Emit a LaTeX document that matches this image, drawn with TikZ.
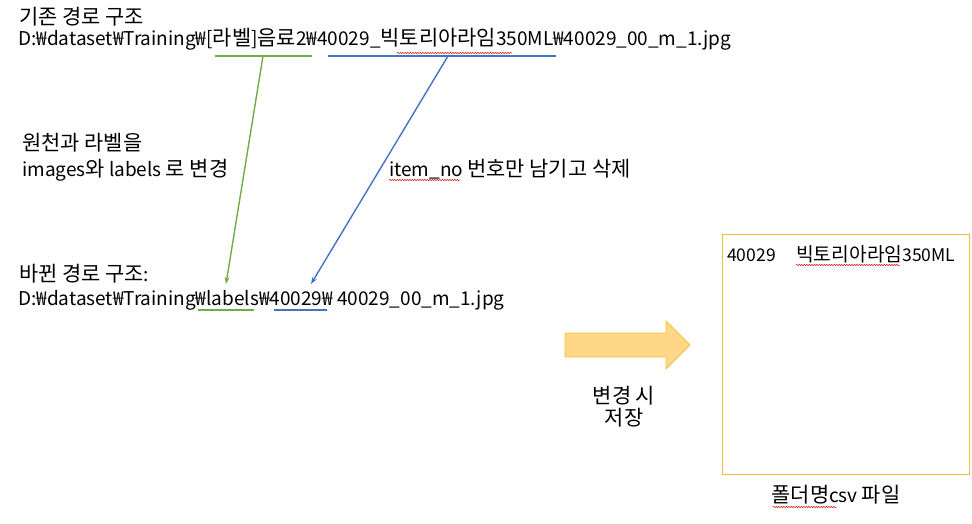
\documentclass[tikz,border=0pt]{standalone}
\usepackage{fontspec}
\setmainfont{Noto Sans CJK KR}
\newfontfamily\krfont[Scale=1.1]{Noto Sans CJK KR}
\newcommand{\hangul}[1]{{\krfont #1}}
\usetikzlibrary{arrows.meta,decorations.pathmorphing}
\definecolor{pathgreen}{HTML}{70AD47}
\definecolor{pathblue}{HTML}{4472C4}
\definecolor{arrowfill}{HTML}{FFD787}
\definecolor{arrowline}{HTML}{F5C242}
\definecolor{boxline}{HTML}{F2C037}
\tikzset{
  txt/.style={anchor=base west, inner sep=0pt, font=\fontsize{19}{23}\selectfont},
  ctxt/.style={anchor=base, inner sep=0pt, font=\fontsize{19}{23}\selectfont},
  csvtxt/.style={anchor=base west, inner sep=0pt, font=\fontsize{17.5}{21}\selectfont},
  spell/.style={red!80!black, line width=0.5pt, decorate,
    decoration={snake, amplitude=0.6pt, segment length=2.5pt}},
  tip/.style={-{Stealth[length=7pt,width=5pt]}, line width=1.4pt}
}
\begin{document}
\begin{tikzpicture}[x=1pt,y=-1pt]
        \useasboundingbox (0,0) rectangle (972,524);

        % Old path
        \node[txt] (oldtitle) at (19,25) {\hangul{기존 경로 구조}};
        \node[txt] (oldpath) at (18,46) {D:₩dataset₩Training₩[\hangul{라벨}]\hangul{음료}2₩40029\_\hangul{빅토리아라임}350ML₩40029\_00\_m\_1.jpg};

        % New path
        \node[txt] (newtitle) at (19,281) {\hangul{바뀐 경로 구조}:};
        \node[txt] (newpath) at (18,305) {D:₩dataset₩Training₩labels₩40029₩ 40029\_00\_m\_1.jpg};

        % Underlines
        \coordinate (g1a) at (215,56);
        \coordinate (g1b) at (312,56);
        \coordinate (b1a) at (328,56);
        \coordinate (b1b) at (556,56);
        \coordinate (g2a) at (198,310);
        \coordinate (g2b) at (254,310);
        \coordinate (b2a) at (274,310);
        \coordinate (b2b) at (327,310);
        \draw[pathgreen, line width=1.5pt] (g1a) -- (g1b);
        \draw[pathblue, line width=1.5pt] (b1a) -- (b1b);
        \draw[pathgreen, line width=1.5pt] (g2a) -- (g2b);
        \draw[pathblue, line width=1.5pt] (b2a) -- (b2b);

        % Arrows
        \coordinate (gtop) at (263,56);
        \coordinate (gend) at (226,284);
        \coordinate (btop) at (448,56);
        \coordinate (bend) at (311,284);
        \draw[tip, pathgreen] (gtop) -- (gend);
        \draw[tip, pathblue] (btop) -- (bend);

        % Labels
        \node[txt] (rename1) at (22,151) {\hangul{원천과 라벨을}};
        \node[txt] (rename2) at (22,176) {images\hangul{와} labels \hangul{로 변경}};
        \node[txt] (remove) at (389,176) {item\_no \hangul{번호만 남기고 삭제}};

        % Save arrow
        \draw[arrowline, fill=arrowfill, line width=0.8pt]
            (565,333) -- (666,333) -- (666,321) -- (690,345) -- (666,369)
            -- (666,357) -- (565,357) -- cycle;
        \node[ctxt] (save1) at (624,403) {\hangul{변경 시}};
        \node[ctxt] (save2) at (624,425) {\hangul{저장}};

        % CSV file
        \draw[boxline, line width=1pt] (722,234) rectangle (969,474);
        \node[csvtxt] (csvid) at (727,261) {40029};
        \node[csvtxt] (csvname) at (796,261) {\hangul{빅토리아라임}350ML};
        \node[ctxt] (csvcap) at (836,502) {\hangul{폴더명}csv \hangul{파일}};

        % Spelling marks
        \draw[spell] (397,53) -- (512,53);
        \draw[spell] (389,180) -- (460,180);
        \draw[spell] (796,265) -- (900,265);
        \draw[spell] (773,507) -- (837,507);
\end{tikzpicture}
\end{document}
